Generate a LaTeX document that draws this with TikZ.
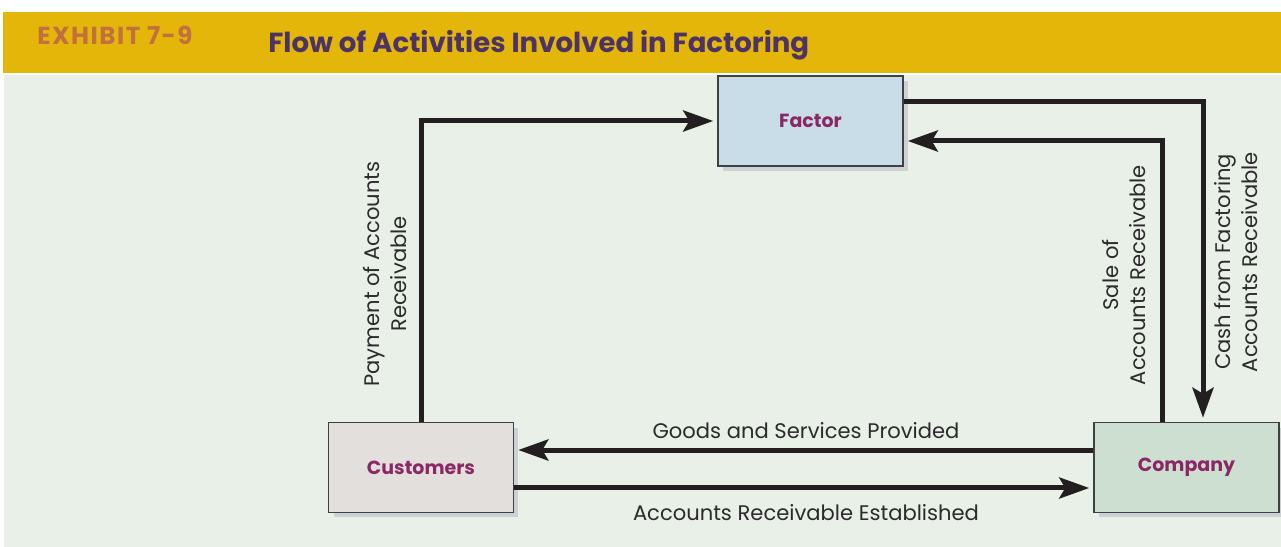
\documentclass[tikz,border=0pt]{standalone}
\usepackage{fontspec}
\setmainfont{Poppins}
\usepackage{tikz}
\usetikzlibrary{positioning,arrows.meta,shadows}

\definecolor{bandgold}{HTML}{E5B60A}
\definecolor{exhibitorange}{HTML}{C1703E}
\definecolor{titlepurple}{HTML}{4B3366}
\definecolor{panelgreen}{HTML}{E9F0E8}
\definecolor{factorblue}{HTML}{C9DDE8}
\definecolor{custgray}{HTML}{E3DFDD}
\definecolor{compgreen}{HTML}{CDDFD1}
\definecolor{boxtext}{HTML}{8A2865}
\definecolor{boxline}{HTML}{404040}
\definecolor{shadowgray}{HTML}{CDD0D4}
\definecolor{arrowink}{HTML}{231F20}
\definecolor{labelink}{HTML}{2B2B2B}

\begin{document}
\begin{tikzpicture}[
  x=0.02cm, y=-0.02cm,
  box/.style={draw=boxline, line width=0.9pt, minimum width=3.7cm, minimum height=1.8cm,
              inner sep=0pt, text=boxtext, font=\fontsize{10.8}{13}\selectfont\bfseries,
              drop shadow={shadow xshift=0.1cm, shadow yshift=-0.1cm, fill=shadowgray, opacity=1}},
  arr/.style={-{Stealth[length=0.6cm, width=0.42cm, inset=0.12cm]}, line width=0.1cm,
              draw=arrowink, shorten >=0.08cm},
  lbl/.style={font=\fontsize{12}{15.5}\selectfont, text=labelink, align=center},
  vlbl/.style={lbl, rotate=90}
]
  \useasboundingbox (0,0) rectangle (1281,547);
  \fill[white] (0,0) rectangle (1281,547);
  \fill[bandgold] (3,12) rectangle (1281,73);
  \fill[panelgreen] (4,75) rectangle (1281,547);

  \node[anchor=base west, inner sep=0pt, text=exhibitorange,
        font=\fontsize{14}{16}\selectfont\bfseries\addfontfeature{LetterSpace=6}] (exhibit) at (37,45) {EXHIBIT 7-9};
  \node[anchor=base west, inner sep=0pt, text=titlepurple,
        font=\fontsize{15.7}{18}\selectfont\bfseries] (title) at (268,53) {Flow of Activities Involved in Factoring};

  \node[box, fill=factorblue] (factor) at (810.5,121) {Factor};
  \node[box, fill=custgray] (cust) at (421,467.5) {Customers};
  \node[box, fill=compgreen] (comp) at (1186.5,467.5) {Company};

  \draw[arr] (cust.north) |- (factor.west);
  \draw[arr] ([yshift=0.4cm]factor.east) -| ([xshift=0.33cm]comp.north);
  \draw[arr] ([xshift=-0.49cm]comp.north) |- ([yshift=-0.4cm]factor.east);
  \draw[arr] ([yshift=0.35cm]comp.west) -- ([yshift=0.35cm]cust.east);
  \draw[arr] ([yshift=-0.41cm]cust.east) -- ([yshift=-0.41cm]comp.west);

  \node[lbl, anchor=base] (goods) at (806,438) {Goods and Services Provided};
  \node[lbl, anchor=base] (established) at (806,520) {Accounts Receivable Established};
  \node[vlbl] (payment) at (385,274) {Payment of Accounts\\Receivable};
  \node[vlbl] (sale) at (1124,275) {Sale of\\Accounts Receivable};
  \node[vlbl] (cash) at (1236,262) {Cash from Factoring\\Accounts Receivable};
\end{tikzpicture}
\end{document}
